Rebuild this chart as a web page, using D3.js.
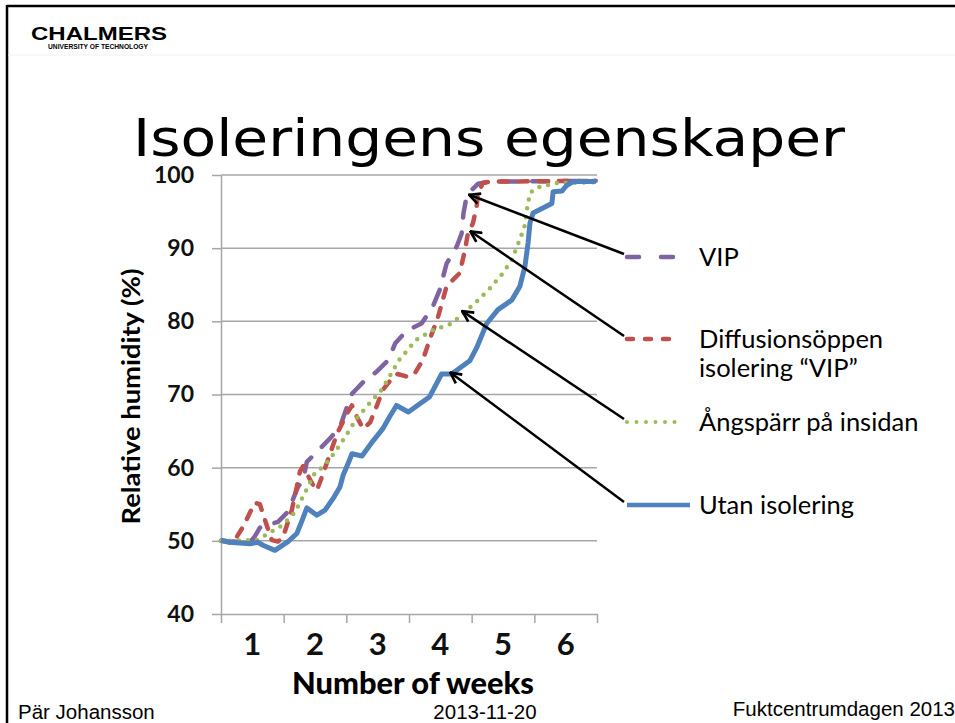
<!DOCTYPE html>
<html>
<head>
<meta charset="utf-8">
<script src="https://cdn.jsdelivr.net/npm/d3@7"></script>
<style>
  body { margin: 0; background: #fff; }
</style>
</head>
<body>
<div class="canvas"></div>
<script>
// values: [week, relative humidity %]
const vipData = [[0,50],[0.46,49.8],[0.54,50.6],[0.62,51.8],[0.91,52.6],[1.07,54],[1.23,57.4],[1.31,58.3],[1.37,60.8],[1.5,61.9],[1.74,64],[1.9,65.6],[2.01,68.3],[2.09,70.1],[2.27,71.7],[2.48,73.1],[2.67,74.7],[2.78,77],[2.96,78.7],[3.2,79.7],[3.38,82],[3.49,84.3],[3.6,87.9],[3.76,90.2],[3.84,92],[3.87,94.8],[3.92,97.1],[3.97,97.7],[4.1,98.8],[4.29,99.1],[5.98,99.2]];
const diffData = [[0,50],[0.19,49.7],[0.35,51.9],[0.54,55.2],[0.62,55],[0.7,52.9],[0.81,50.1],[0.91,49.9],[0.99,50.5],[1.13,54.2],[1.21,57.4],[1.26,59.5],[1.31,60.2],[1.45,57.9],[1.53,56.9],[1.63,59.2],[1.74,61.9],[1.85,64.6],[2.01,67.4],[2.09,68.5],[2.17,66.9],[2.27,65.3],[2.38,66.2],[2.48,68.3],[2.58,70.6],[2.7,71.9],[2.82,72.8],[2.98,72.4],[3.1,73],[3.22,74.7],[3.33,77.5],[3.46,80.5],[3.6,84.8],[3.81,86.6],[3.89,89.6],[3.94,92],[4.02,93.4],[4.08,95.7],[4.1,97.5],[4.18,98.9],[4.29,99.1],[5.98,99.2]];
const angData = [[0,50],[0.57,50.1],[0.78,51.1],[0.99,52.2],[1.18,53.9],[1.34,56.6],[1.5,59.3],[1.63,60.1],[1.82,62.1],[2.01,64.6],[2.17,66.8],[2.38,68.9],[2.56,70.6],[2.72,72.9],[2.84,74.7],[3.12,77.5],[3.38,78.8],[3.68,79.7],[3.84,80.9],[4.08,82.7],[4.29,84.5],[4.5,86.6],[4.64,88.4],[4.77,91.2],[4.85,93.2],[4.88,95.2],[4.93,97.5],[5.01,98.2],[5.2,98.6],[5.36,98.9],[5.98,99]];
const utanData = [[0,50.1],[0.14,49.8],[0.46,49.6],[0.59,49.8],[0.67,49.4],[0.86,48.7],[1.07,49.9],[1.21,51],[1.29,52.7],[1.37,54.5],[1.53,53.5],[1.66,54.2],[1.79,55.8],[1.9,57.4],[1.95,59],[2.03,60.6],[2.09,61.9],[2.25,61.6],[2.43,63.7],[2.58,65.3],[2.7,67.1],[2.8,68.5],[2.99,67.6],[3.33,69.7],[3.52,72.8],[3.68,72.8],[3.97,74.6],[4.08,76.4],[4.24,79.7],[4.42,81.6],[4.64,82.9],[4.77,84.8],[4.85,87.5],[4.9,90.7],[4.93,93.4],[4.98,94.8],[5.28,96.1],[5.3,97.7],[5.44,97.8],[5.52,98.6],[5.62,99.1],[5.98,99.1]];

const seriesNames = ["VIP", "Diffusionsöppen|isolering \u201cVIP\u201d", "Ångspärr på insidan", "Utan isolering"];
const seriesColors = ["#8064a2", "#c0504d", "#9bbb59", "#4f81bd"];
// where each arrow points on its curve [week, RH]
const arrowTips = [[3.96, 97.3], [3.98, 92.3], [3.85, 81.4], [3.66, 73]];

const weekLabels = ["1", "2", "3", "4", "5", "6"];
const yTicks = [40, 50, 60, 70, 80, 90, 100];

const W = 955, H = 723;
const margin = { top: 175, left: 221 };
const graphWidth = 376;
const graphHeight = 439;

const svg = d3.select(".canvas").append("svg")
  .attr("width", W).attr("height", H)
  .style("display", "block");

// slide frame
svg.append("line").attr("x1", 7).attr("x2", W).attr("y1", 6).attr("y2", 6)
  .attr("stroke", "#000").attr("stroke-width", 2.5);
svg.append("line").attr("x1", 7).attr("x2", 7).attr("y1", 5).attr("y2", H)
  .attr("stroke", "#000").attr("stroke-width", 2.5);
svg.append("line").attr("x1", 8).attr("x2", W).attr("y1", 55).attr("y2", 55)
  .attr("stroke", "#f0f0f0").attr("stroke-width", 1);

// logo
svg.append("text").attr("x", 31).attr("y", 40)
  .style("font-family", "Liberation Sans, Arial").style("font-weight", "bold")
  .style("font-size", "19px").attr("textLength", 136).attr("lengthAdjust", "spacingAndGlyphs")
  .text("CHALMERS");
svg.append("text").attr("x", 48).attr("y", 49)
  .style("font-family", "Liberation Sans, Arial").style("font-weight", "bold")
  .style("font-size", "6.5px").attr("textLength", 100).attr("lengthAdjust", "spacingAndGlyphs")
  .text("UNIVERSITY OF TECHNOLOGY");

// title
svg.append("text").attr("x", 133).attr("y", 156)
  .style("font-family", "Liberation Sans Narrow, DejaVu Sans Condensed, Liberation Sans, Arial")
  .style("font-size", "52px")
  .style("font-weight", "300")
  .attr("textLength", 712).attr("lengthAdjust", "spacingAndGlyphs")
  .text("Isoleringens egenskaper");

const graph = svg.append("g")
  .attr("transform", `translate(${margin.left}, ${margin.top})`);

//scales
const x = d3.scaleLinear().domain([0, 6]).range([0, graphWidth]);
const y = d3.scaleLinear().domain([40, 100]).range([graphHeight, 0]);
const xBand = d3.scaleBand().domain(weekLabels).range([0, graphWidth]);

//grid lines
graph.append("g").selectAll("line")
  .data(yTicks.slice(1))
  .enter().append("line")
  .attr("x1", 0).attr("x2", graphWidth)
  .attr("y1", d => y(d)).attr("y2", d => y(d))
  .attr("stroke", "#a6a6a6").attr("stroke-width", 1.5);

//axes
const yAxisGroup = graph.append("g")
  .call(d3.axisLeft(y).tickValues(yTicks).tickSize(9).tickSizeOuter(0).tickPadding(18));
yAxisGroup.select(".domain").attr("stroke", "#a6a6a6").attr("stroke-width", 1.5);
yAxisGroup.selectAll(".tick line").attr("stroke", "#a6a6a6").attr("stroke-width", 1.5);
yAxisGroup.selectAll("text")
  .style("font-family", "Lato, sans-serif").style("font-weight", "bold")
  .style("font-size", "23px").attr("fill", "#111");

const xAxisGroup = graph.append("g")
  .attr("transform", `translate(0, ${graphHeight})`)
  .call(d3.axisBottom(x).tickValues([0, 1, 2, 3, 4, 5, 6]).tickFormat("").tickSize(9).tickSizeOuter(0));
xAxisGroup.select(".domain").attr("stroke", "#a6a6a6").attr("stroke-width", 1.5);
xAxisGroup.selectAll(".tick line").attr("stroke", "#a6a6a6").attr("stroke-width", 1.5);

const xLabelGroup = graph.append("g")
  .attr("transform", `translate(0, ${graphHeight})`)
  .call(d3.axisBottom(xBand).tickSize(0).tickPadding(19));
xLabelGroup.select(".domain").remove();
xLabelGroup.selectAll("text")
  .style("font-family", "Lato, sans-serif").style("font-weight", "bold")
  .style("font-size", "31px").attr("fill", "#111");

//axis titles
svg.append("text")
  .attr("transform", `translate(140, ${margin.top + y(70) + 2}) rotate(-90)`)
  .attr("text-anchor", "middle")
  .style("font-family", "Lato, sans-serif").style("font-weight", "bold")
  .style("font-size", "25px")
  .attr("textLength", 256).attr("lengthAdjust", "spacingAndGlyphs")
  .text("Relative humidity (%)");
svg.append("text")
  .attr("x", 413).attr("y", 694)
  .attr("text-anchor", "middle")
  .style("font-family", "Lato, sans-serif").style("font-weight", "900")
  .style("font-size", "31px")
  .attr("textLength", 242).attr("lengthAdjust", "spacingAndGlyphs")
  .text("Number of weeks");

//lines
const line = d3.line().x(d => x(d[0])).y(d => y(d[1]));
const dashes = ["16,15", "9,11", "0,9", null];
const allData = [vipData, diffData, angData, utanData];

graph.append("g").selectAll("path")
  .data(allData)
  .enter().append("path")
  .attr("d", line)
  .attr("fill", "none")
  .attr("stroke", (d, i) => seriesColors[i])
  .attr("stroke-width", (d, i) => i === 3 ? 5 : 4.5)
  .attr("stroke-linecap", (d, i) => i === 3 ? "butt" : "round")
  .attr("stroke-linejoin", "round")
  .attr("stroke-dasharray", (d, i) => dashes[i]);

//legend
const legendRows = [257, 339, 422, 505];
const legend = svg.append("g");
legendRows.forEach((ry, i) => {
  legend.append("line")
    .attr("x1", 627).attr("x2", i === 3 ? 690 : 680)
    .attr("y1", ry).attr("y2", ry)
    .attr("stroke", seriesColors[i])
    .attr("stroke-width", i === 2 ? 4 : 4.5)
    .attr("stroke-linecap", i === 3 ? "butt" : "round")
    .attr("stroke-dasharray", i === 0 ? "12,22" : i === 1 ? "6,12" : i === 2 ? "0,9.5" : null);
  const lines = seriesNames[i].split("|");
  lines.forEach((t, j) => {
    legend.append("text")
      .attr("x", 699).attr("y", ry + 9 + j * 29)
      .style("font-family", "Lato, sans-serif")
      .style("font-size", "25.5px")
      .text(t);
  });
});

//arrows
svg.append("defs").append("marker")
  .attr("id", "head")
  .attr("viewBox", "0 0 12 12")
  .attr("refX", 11).attr("refY", 6)
  .attr("markerWidth", 13).attr("markerHeight", 13)
  .attr("markerUnits", "userSpaceOnUse")
  .attr("orient", "auto")
  .append("path")
  .attr("d", "M1,1 L11,6 L1,11")
  .attr("fill", "none").attr("stroke", "#000").attr("stroke-width", 2.5)
  .attr("stroke-linejoin", "miter");

svg.append("g").selectAll("line")
  .data(arrowTips)
  .enter().append("line")
  .attr("x1", 624).attr("y1", (d, i) => legendRows[i] - 3)
  .attr("x2", d => margin.left + x(d[0]))
  .attr("y2", d => margin.top + y(d[1]))
  .attr("stroke", "#000").attr("stroke-width", 2.5)
  .attr("marker-end", "url(#head)");

//footer
const footFont = "Liberation Sans, Arial, sans-serif";
svg.append("text").attr("x", 18).attr("y", 719)
  .style("font-family", footFont).style("font-size", "20.5px")
  .text("Pär Johansson");
svg.append("text").attr("x", 485).attr("y", 719).attr("text-anchor", "middle")
  .style("font-family", footFont).style("font-size", "20.5px")
  .text("2013-11-20");
svg.append("text").attr("x", 955).attr("y", 716).attr("text-anchor", "end")
  .style("font-family", footFont).style("font-size", "20.5px")
  .text("Fuktcentrumdagen 2013");
</script>
</body>
</html>
